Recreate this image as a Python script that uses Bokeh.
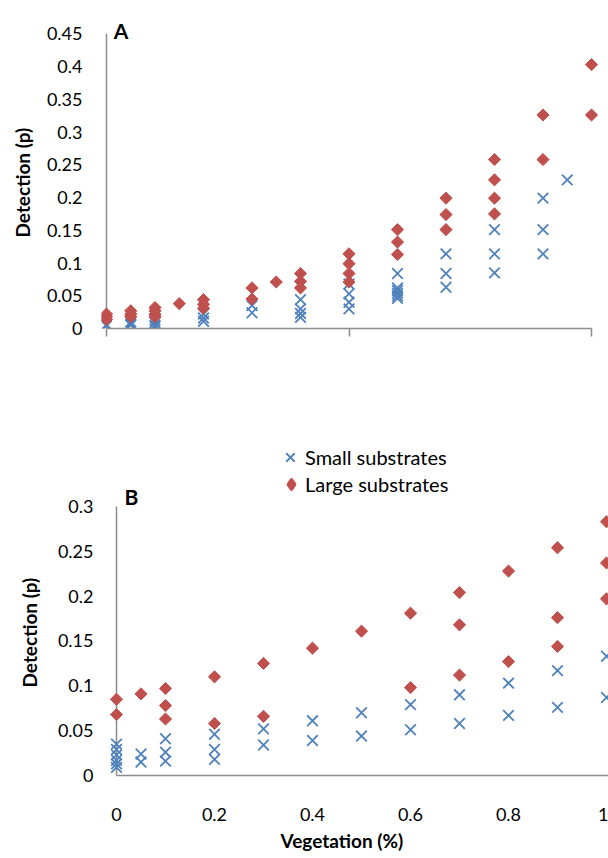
import math

from bokeh.embed import file_html
from bokeh.layouts import column
from bokeh.models import FixedTicker, Label, Legend, LegendItem, Range1d, Title
from bokeh.plotting import figure
from bokeh.resources import INLINE

FONT = "Lato"
BLUE = "#4F81BD"
RED = "#C0504D"
AXIS_GREY = "#8c8c8c"

# ---------------- Panel A: detection vs vegetation ----------------
a_small_x = [0, 0, 0.05, 0.05, 0.05, 0.1, 0.1, 0.1, 0.1, 0.2, 0.2, 0.2,
             0.3, 0.3, 0.4, 0.4, 0.4, 0.4, 0.5, 0.5, 0.5, 0.5,
             0.6, 0.6, 0.6, 0.6, 0.6, 0.6, 0.7, 0.7, 0.7, 0.8, 0.8, 0.8,
             0.9, 0.9, 0.9, 0.95]
a_small_y = [0.006, 0.004, 0.010, 0.007, 0.005, 0.013, 0.009, 0.005, 0.003,
             0.022, 0.016, 0.011, 0.035, 0.024, 0.044, 0.030, 0.023, 0.017,
             0.068, 0.053, 0.040, 0.030, 0.084, 0.062, 0.058, 0.054, 0.050,
             0.046, 0.114, 0.084, 0.063, 0.151, 0.114, 0.085, 0.199, 0.151,
             0.114, 0.227]

a_large_x = [0, 0, 0, 0.05, 0.05, 0.05, 0.1, 0.1, 0.1, 0.1, 0.15,
             0.2, 0.2, 0.2, 0.3, 0.3, 0.35, 0.4, 0.4, 0.4,
             0.5, 0.5, 0.5, 0.5, 0.6, 0.6, 0.6, 0.7, 0.7, 0.7,
             0.8, 0.8, 0.8, 0.8, 0.9, 0.9, 1, 1]
a_large_y = [0.022, 0.018, 0.014, 0.027, 0.022, 0.018, 0.032, 0.027, 0.022,
             0.018, 0.038, 0.044, 0.037, 0.031, 0.062, 0.045, 0.071, 0.084,
             0.072, 0.062, 0.114, 0.099, 0.084, 0.071, 0.151, 0.132, 0.113,
             0.199, 0.174, 0.151, 0.258, 0.227, 0.199, 0.175, 0.326, 0.258,
             0.403, 0.326]

a_x_ticks = [0, 0.5, 1]
a_x_labels = ["", "", ""]
a_y_ticks = [0, 0.05, 0.1, 0.15, 0.2, 0.25, 0.3, 0.35, 0.4, 0.45]
a_y_labels = ["0", "0.05", "0.1", "0.15", "0.2", "0.25", "0.3", "0.35",
              "0.4", "0.45"]

# ---------------- Panel B ----------------
b_small_x = [0, 0, 0, 0, 0, 0, 0.05, 0.05, 0.1, 0.1, 0.1, 0.2, 0.2, 0.2,
             0.3, 0.3, 0.4, 0.4, 0.5, 0.5, 0.6, 0.6, 0.7, 0.7, 0.8, 0.8,
             0.9, 0.9, 1, 1]
b_small_y = [0.035, 0.029, 0.023, 0.017, 0.013, 0.009, 0.024, 0.015,
             0.041, 0.026, 0.016, 0.046, 0.029, 0.018, 0.052, 0.034,
             0.061, 0.039, 0.070, 0.044, 0.079, 0.051, 0.090, 0.058,
             0.103, 0.067, 0.117, 0.076, 0.133, 0.087]

b_large_x = [0, 0, 0.05, 0.1, 0.1, 0.1, 0.2, 0.2, 0.3, 0.3, 0.4, 0.5,
             0.6, 0.6, 0.7, 0.7, 0.7, 0.8, 0.8, 0.9, 0.9, 0.9, 1, 1, 1]
b_large_y = [0.085, 0.068, 0.091, 0.097, 0.078, 0.063, 0.110, 0.058,
             0.125, 0.066, 0.142, 0.161, 0.181, 0.098, 0.204, 0.168,
             0.112, 0.228, 0.127, 0.254, 0.176, 0.144, 0.283, 0.237, 0.197]

b_x_ticks = [0, 0.2, 0.4, 0.6, 0.8, 1]
b_x_labels = ["0", "0.2", "0.4", "0.6", "0.8", "1"]
b_y_ticks = [0, 0.05, 0.1, 0.15, 0.2, 0.25, 0.3]
b_y_labels = ["0", "0.05", "0.1", "0.15", "0.2", "0.25", "0.3"]

series_names = ["Small substrates", "Large substrates"]
y_title = "Detection (p)"
x_title = "Vegetation (%)"

X_SIZE = 15
DIAMOND_SIZE = 8.6
FRAME_LEFT = 101


def base_figure(x_range, y_range, frame_w, frame_h, right, bottom):
    p = figure(frame_width=frame_w, frame_height=frame_h,
               x_range=x_range, y_range=y_range,
               min_border_left=FRAME_LEFT, min_border_right=right,
               min_border_top=0, min_border_bottom=bottom,
               output_backend="svg", toolbar_location=None)
    p.outline_line_color = None
    p.background_fill_color = "white"
    p.border_fill_color = "white"
    p.xgrid.visible = False
    p.ygrid.visible = False
    for ax in (p.xaxis[0], p.yaxis[0]):
        ax.axis_line_color = AXIS_GREY
        ax.axis_line_width = 1.5
        ax.major_tick_line_color = AXIS_GREY
        ax.major_tick_line_width = 1.5
        ax.minor_tick_line_color = None
        ax.major_tick_in = 0
        ax.major_label_text_font = FONT
        ax.major_label_text_font_size = "18px"
        ax.major_label_text_color = "black"
    # the value axis line is drawn at x = 0 inside the frame instead
    p.yaxis.axis_line_color = None
    p.yaxis.major_tick_out = 0
    return p


def axis_title(text, align_offset, standoff, vertical_align):
    return Title(text=text, align="left", offset=align_offset,
                 standoff=standoff, vertical_align=vertical_align,
                 text_font=FONT, text_font_size="19px",
                 text_font_style="bold", text_color="black")


def add_value_axis_line(p, ticks):
    p.segment(x0=[0], y0=[ticks[0]], x1=[0], y1=[ticks[-1]],
              line_color=AXIS_GREY, line_width=1.5)


def add_points(p, sx, sy, lx, ly):
    r_small = p.scatter(sx, sy, marker="x", size=X_SIZE, line_color=BLUE,
                        line_width=1.8)
    r_large = p.scatter(lx, ly, marker="square", size=DIAMOND_SIZE,
                        angle=math.pi / 4, fill_color=RED, line_color=RED,
                        line_width=1)
    return r_small, r_large


def panel_letter(x, y, text):
    return Label(x=x, y=y, text=text, text_font=FONT, text_font_size="21px",
                 text_font_style="bold", text_color="black",
                 text_align="left", text_baseline="alphabetic")


# ---- Panel A figure ----
A_PX_X = 485.0     # pixels per unit of vegetation
A_PX_Y = 654.9     # pixels per unit of detection
a_frame_w, a_frame_h = 504, 328
a_x0 = -5.0 / A_PX_X
a_y1 = a_frame_h / A_PX_Y

pa = base_figure(Range1d(a_x0, a_x0 + a_frame_w / A_PX_X), Range1d(0, a_y1),
                 a_frame_w, a_frame_h, 3, 82)
pa.xaxis.bounds = (0, 1)
pa.xaxis.ticker = FixedTicker(ticks=a_x_ticks, minor_ticks=[])
pa.xaxis.major_label_overrides = dict(zip(a_x_ticks, a_x_labels))
pa.xaxis.major_tick_out = 8
pa.yaxis.ticker = FixedTicker(ticks=a_y_ticks, minor_ticks=[])
pa.yaxis.major_label_overrides = dict(zip(a_y_ticks, a_y_labels))
pa.yaxis.major_label_standoff = 19
pa.add_layout(axis_title(y_title, 91, 18, "middle"), "left")

add_value_axis_line(pa, a_y_ticks)
add_points(pa, a_small_x, a_small_y, a_large_x, a_large_y)
pa.add_layout(panel_letter(0.0152, 0.4546, "A"))

# ---- Panel B figure ----
B_PX_X = 490.0
B_PX_Y = 896.7
b_frame_w, b_frame_h = 507, 365
b_x0 = -15.0 / B_PX_X
b_x1 = b_x0 + b_frame_w / B_PX_X
b_y1 = b_frame_h / B_PX_Y

pb = base_figure(Range1d(b_x0, b_x1), Range1d(0, b_y1),
                 b_frame_w, b_frame_h, 0, 83)
pb.xaxis.bounds = (0, b_x1)
pb.xaxis.ticker = FixedTicker(ticks=b_x_ticks, minor_ticks=[])
pb.xaxis.major_label_overrides = dict(zip(b_x_ticks, b_x_labels))
pb.xaxis.major_tick_out = 0
pb.xaxis.major_label_standoff = 32
pb.yaxis.ticker = FixedTicker(ticks=b_y_ticks, minor_ticks=[])
pb.yaxis.major_label_overrides = dict(zip(b_y_ticks, b_y_labels))
pb.yaxis.major_label_standoff = 8
pb.add_layout(axis_title(y_title, 88, 26, "middle"), "left")
pb.add_layout(axis_title(x_title, 179, 10, "top"), "below")

add_value_axis_line(pb, b_y_ticks)
rb_small, rb_large = add_points(pb, b_small_x, b_small_y, b_large_x, b_large_y)
pb.add_layout(panel_letter(0.0165, 0.3115, "B"))

# legend key for the large substrates: a diamond marker that is not drawn
# in the plot area itself, only in the legend
key_large = pb.scatter(b_large_x, b_large_y, marker="diamond", size=11,
                       fill_color=RED, line_color=RED, line_width=2.5,
                       visible=False)

legend_style = dict(orientation="vertical", padding=0, margin=0, spacing=0,
                    label_standoff=0,
                    label_text_font=FONT, label_text_font_size="20px",
                    label_text_color="black", border_line_color=None,
                    background_fill_alpha=0, inactive_fill_alpha=0)
legend_small = Legend(items=[LegendItem(label=series_names[0],
                                        renderers=[rb_small])],
                      location=(174, 303), glyph_width=30, glyph_height=30,
                      label_height=30, **legend_style)
legend_large = Legend(items=[LegendItem(label=series_names[1],
                                        renderers=[key_large])],
                      location=(176, 277), glyph_width=28, glyph_height=28,
                      label_height=28, **legend_style)
pb.add_layout(legend_small, "center")
pb.add_layout(legend_large, "center")

layout = column(pa, pb, spacing=0)

with open("out.html", "w") as f:
    f.write(file_html(layout, INLINE))
